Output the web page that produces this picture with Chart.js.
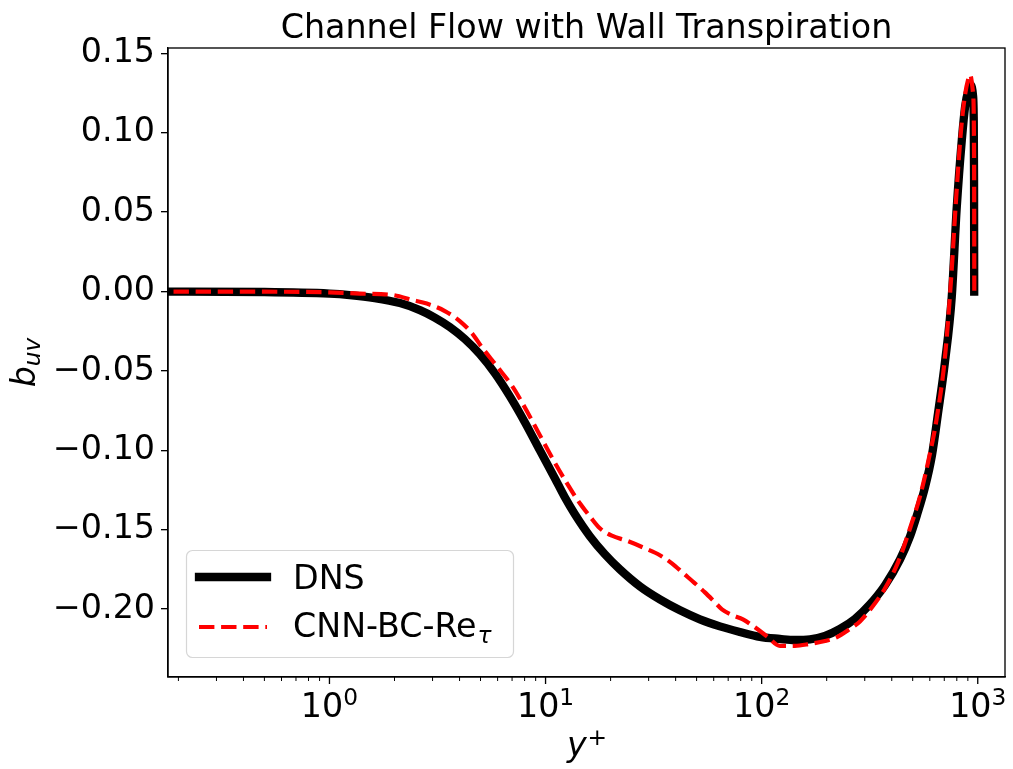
<!DOCTYPE html>
<html lang="en">
<head>
    <meta charset="UTF-8">
    <title>Channel Flow with Wall Transpiration</title>
    <script src="https://cdn.jsdelivr.net/npm/chart.js"></script>
    <style>
        html, body {
            margin: 0;
            padding: 0;
            background: #fff;
        }
        #chart {
            display: block;
        }
    </style>
</head>
<body>
    <canvas id="chart" width="1013" height="769"></canvas>

    <script>
        // DNS profile of b_uv against y+
        const yPlusDns = [0.15, 0.5, 1.0, 1.24, 1.62, 2.12, 2.62, 3.07, 3.61, 4.23, 4.96, 5.82, 6.83, 8.02, 9.41,
            11.04, 12.28, 13.67, 16.03, 18.82, 22.08, 27.33, 33.8, 41.9, 51.8, 64.1, 79.3, 98.2, 121.5, 142.3,
            167.4, 196.4, 230.4, 270.4, 317.2, 372.4, 437, 486, 523, 570, 614, 655, 705, 758, 800, 844, 874, 906,
            929, 950, 958, 961.5, 963];
        const buvDns = [0.0, -0.0003, -0.0013, -0.0022, -0.0041, -0.0073, -0.0117, -0.0164, -0.0224, -0.0299,
            -0.0394, -0.0514, -0.0659, -0.0823, -0.1000, -0.1176, -0.1296, -0.1403, -0.1541, -0.1655, -0.1750,
            -0.1857, -0.1939, -0.2008, -0.2065, -0.2109, -0.2144, -0.2175, -0.2188, -0.2195, -0.2191, -0.2169,
            -0.2125, -0.2062, -0.1970, -0.1850, -0.1687, -0.1542, -0.1409, -0.1233, -0.1031, -0.0766, -0.0445,
            -0.0035, 0.0535, 0.0955, 0.1165, 0.127, 0.130, 0.124, 0.11, 0.07, 0.0];

        // CNN-BC-Re_tau prediction
        const yPlusCnn = [0.15, 0.5, 1.0, 1.38, 1.96, 2.43, 2.82, 3.42, 4.01, 4.56, 5.07, 5.95, 7.06, 8.19, 9.41,
            10.81, 12.55, 14.41, 16.04, 17.84, 20.28, 23.79, 28.83, 33.82, 38.43, 43.69, 49.12, 54.64, 60.15, 65.52,
            72.88, 81.93, 93.1, 105.8, 121.5, 142.6, 167.4, 196.4, 223.2, 250.8, 285.1, 324.1, 372.4, 427.6, 486.1,
            540.6, 588.9, 646, 705.8, 752.2, 793.4, 837, 873.4, 902, 921.3, 951, 962, 964];
        const buvCnn = [0.0, -0.0001, -0.0005, -0.0013, -0.0022, -0.0054, -0.0076, -0.0123, -0.0186, -0.0262,
            -0.0350, -0.0470, -0.0602, -0.0753, -0.0905, -0.1056, -0.1207, -0.1334, -0.1416, -0.1491, -0.1538,
            -0.1570, -0.1617, -0.1661, -0.1712, -0.1778, -0.1838, -0.1895, -0.1951, -0.2002, -0.2037, -0.2065,
            -0.2115, -0.2172, -0.2232, -0.2232, -0.2219, -0.2201, -0.2177, -0.2134, -0.2078, -0.1989, -0.1869,
            -0.1706, -0.1491, -0.1289, -0.1075, -0.0798, -0.0407, 0.0073, 0.0577, 0.1018, 0.1239, 0.1334, 0.1365,
            0.125, 0.08, 0.0];

        // Axis ticks
        const yTickValues = [-0.20, -0.15, -0.10, -0.05, 0.00, 0.05, 0.10, 0.15];
        const xMajorTicks = [1, 10, 100, 1000];
        const xTickExponents = ['0', '1', '2', '3'];

        const FONT = '"DejaVu Sans"';
        const BIG = 33.3;
        const SMALL = 23.3;

        const X_MIN = 0.179;
        const X_MAX = 1337;

        function toPoints(xs, ys) {
            return xs.map((x, i) => ({ x: x, y: ys[i] }));
        }

        function formatY(v) {
            return v.toFixed(2).replace('-', '\u2212');
        }

        // Frame, log ticks, labels and legend drawn on top of the datasets
        const decorations = {
            id: 'decorations',
            afterDatasetsDraw(chart) {
                const ctx = chart.ctx;
                const area = chart.chartArea;
                const xScale = chart.scales.x;
                ctx.save();

                // spines
                ctx.strokeStyle = '#000';
                ctx.lineWidth = 1.33;
                ctx.strokeRect(area.left, area.top, area.right - area.left, area.bottom - area.top);

                // x ticks: majors and minors per decade
                for (let d = 0.1; d <= 1000; d *= 10) {
                    for (let k = 1; k <= 9; k++) {
                        const v = d * k;
                        if (v < X_MIN || v > X_MAX) continue;
                        const px = xScale.getPixelForValue(v);
                        const major = k === 1;
                        ctx.lineWidth = major ? 1.33 : 1;
                        ctx.beginPath();
                        ctx.moveTo(px, area.bottom);
                        ctx.lineTo(px, area.bottom + (major ? 7 : 4));
                        ctx.stroke();
                    }
                }

                // x tick labels 10^n
                ctx.fillStyle = '#000';
                ctx.textBaseline = 'alphabetic';
                ctx.textAlign = 'left';
                xMajorTicks.forEach((v, i) => {
                    const px = xScale.getPixelForValue(v);
                    ctx.font = BIG + 'px ' + FONT;
                    const w1 = ctx.measureText('10').width;
                    ctx.font = SMALL + 'px ' + FONT;
                    const w2 = ctx.measureText(xTickExponents[i]).width;
                    const x0 = px - (w1 + w2) / 2;
                    ctx.font = BIG + 'px ' + FONT;
                    ctx.fillText('10', x0, 717);
                    ctx.font = SMALL + 'px ' + FONT;
                    ctx.fillText(xTickExponents[i], x0 + w1, 705);
                });

                // title
                ctx.font = BIG + 'px ' + FONT;
                ctx.textAlign = 'center';
                ctx.fillText('Channel Flow with Wall Transpiration', (area.left + area.right) / 2, 38);

                // x axis label y^+
                ctx.textAlign = 'left';
                ctx.font = 'italic ' + BIG + 'px ' + FONT;
                const wy = ctx.measureText('y').width;
                ctx.font = SMALL + 'px ' + FONT;
                const wp = ctx.measureText('+').width;
                const xl = (area.left + area.right) / 2 - (wy + wp) / 2;
                ctx.font = 'italic ' + BIG + 'px ' + FONT;
                ctx.fillText('y', xl, 756);
                ctx.font = SMALL + 'px ' + FONT;
                ctx.fillText('+', xl + wy + 1, 745);

                // y axis label b_uv
                ctx.save();
                ctx.translate(35, (area.top + area.bottom) / 2);
                ctx.rotate(-Math.PI / 2);
                ctx.font = 'italic ' + BIG + 'px ' + FONT;
                const wb = ctx.measureText('b').width;
                ctx.font = 'italic ' + SMALL + 'px ' + FONT;
                const wu = ctx.measureText('uv').width;
                const yl = -(wb + wu) / 2;
                ctx.font = 'italic ' + BIG + 'px ' + FONT;
                ctx.fillText('b', yl, 0);
                ctx.font = 'italic ' + SMALL + 'px ' + FONT;
                ctx.fillText('uv', yl + wb, 5);
                ctx.restore();

                // legend box
                const lx = 186.5, ly = 550.5, lw = 327, lh = 107, r = 6;
                ctx.beginPath();
                ctx.moveTo(lx + r, ly);
                ctx.arcTo(lx + lw, ly, lx + lw, ly + lh, r);
                ctx.arcTo(lx + lw, ly + lh, lx, ly + lh, r);
                ctx.arcTo(lx, ly + lh, lx, ly, r);
                ctx.arcTo(lx, ly, lx + lw, ly, r);
                ctx.closePath();
                ctx.fillStyle = 'rgba(255,255,255,0.8)';
                ctx.fill();
                ctx.strokeStyle = '#d6d6d6';
                ctx.lineWidth = 1.2;
                ctx.stroke();

                const ds = chart.data.datasets;
                // DNS handle
                ctx.strokeStyle = ds[0].borderColor;
                ctx.lineWidth = ds[0].borderWidth;
                ctx.lineCap = 'square';
                ctx.setLineDash([]);
                ctx.beginPath();
                ctx.moveTo(199, 577);
                ctx.lineTo(267, 577);
                ctx.stroke();
                // CNN handle
                ctx.strokeStyle = ds[1].borderColor;
                ctx.lineWidth = ds[1].borderWidth;
                ctx.lineCap = 'butt';
                ctx.setLineDash(ds[1].borderDash);
                ctx.beginPath();
                ctx.moveTo(199, 627);
                ctx.lineTo(267, 627);
                ctx.stroke();
                ctx.setLineDash([]);

                ctx.fillStyle = '#000';
                ctx.font = BIG + 'px ' + FONT;
                ctx.fillText(ds[0].label, 293, 589);
                const base = 'CNN-BC-Re';
                ctx.fillText(base, 293, 637);
                const wr = ctx.measureText(base).width;
                ctx.font = 'italic ' + SMALL + 'px ' + FONT;
                ctx.fillText('\u03c4', 293 + wr + 1, 643);

                ctx.restore();
            }
        };

        const chart = new Chart(document.getElementById('chart'), {
            type: 'line',
            data: {
                datasets: [{
                    label: 'DNS',
                    data: toPoints(yPlusDns, buvDns),
                    borderColor: '#000000',
                    borderWidth: 8.3,
                    borderCapStyle: 'square',
                    borderJoinStyle: 'round',
                    pointRadius: 0,
                    cubicInterpolationMode: 'monotone',
                    order: 2
                }, {
                    label: 'CNN-BC-Re\u03c4',
                    data: toPoints(yPlusCnn, buvCnn),
                    borderColor: '#ff0000',
                    borderWidth: 4.2,
                    borderDash: [15.4, 6.7],
                    borderJoinStyle: 'round',
                    pointRadius: 0,
                    cubicInterpolationMode: 'monotone',
                    order: 1
                }]
            },
            options: {
                responsive: false,
                devicePixelRatio: 1,
                animation: false,
                layout: {
                    padding: { left: 0, right: 8, top: 48, bottom: 0 }
                },
                plugins: {
                    legend: { display: false },
                    title: { display: false },
                    tooltip: { enabled: false }
                },
                scales: {
                    x: {
                        type: 'logarithmic',
                        min: X_MIN,
                        max: X_MAX,
                        afterFit: (scale) => { scale.height = 92; },
                        ticks: { display: false },
                        grid: { display: false },
                        border: { display: true, color: '#000', width: 1.33 }
                    },
                    y: {
                        type: 'linear',
                        min: -0.2428,
                        max: 0.1534,
                        afterFit: (scale) => { scale.width = 168; },
                        afterBuildTicks: (scale) => {
                            scale.ticks = yTickValues.map(v => ({ value: v }));
                        },
                        ticks: {
                            callback: (v) => formatY(v),
                            color: '#000',
                            padding: 6,
                            font: { family: 'DejaVu Sans', size: BIG }
                        },
                        grid: {
                            drawOnChartArea: false,
                            drawTicks: true,
                            tickLength: 7,
                            color: '#000',
                            lineWidth: 1.33
                        },
                        border: { display: true, color: '#000', width: 1.33 }
                    }
                }
            },
            plugins: [decorations]
        });
    </script>
</body>
</html>
